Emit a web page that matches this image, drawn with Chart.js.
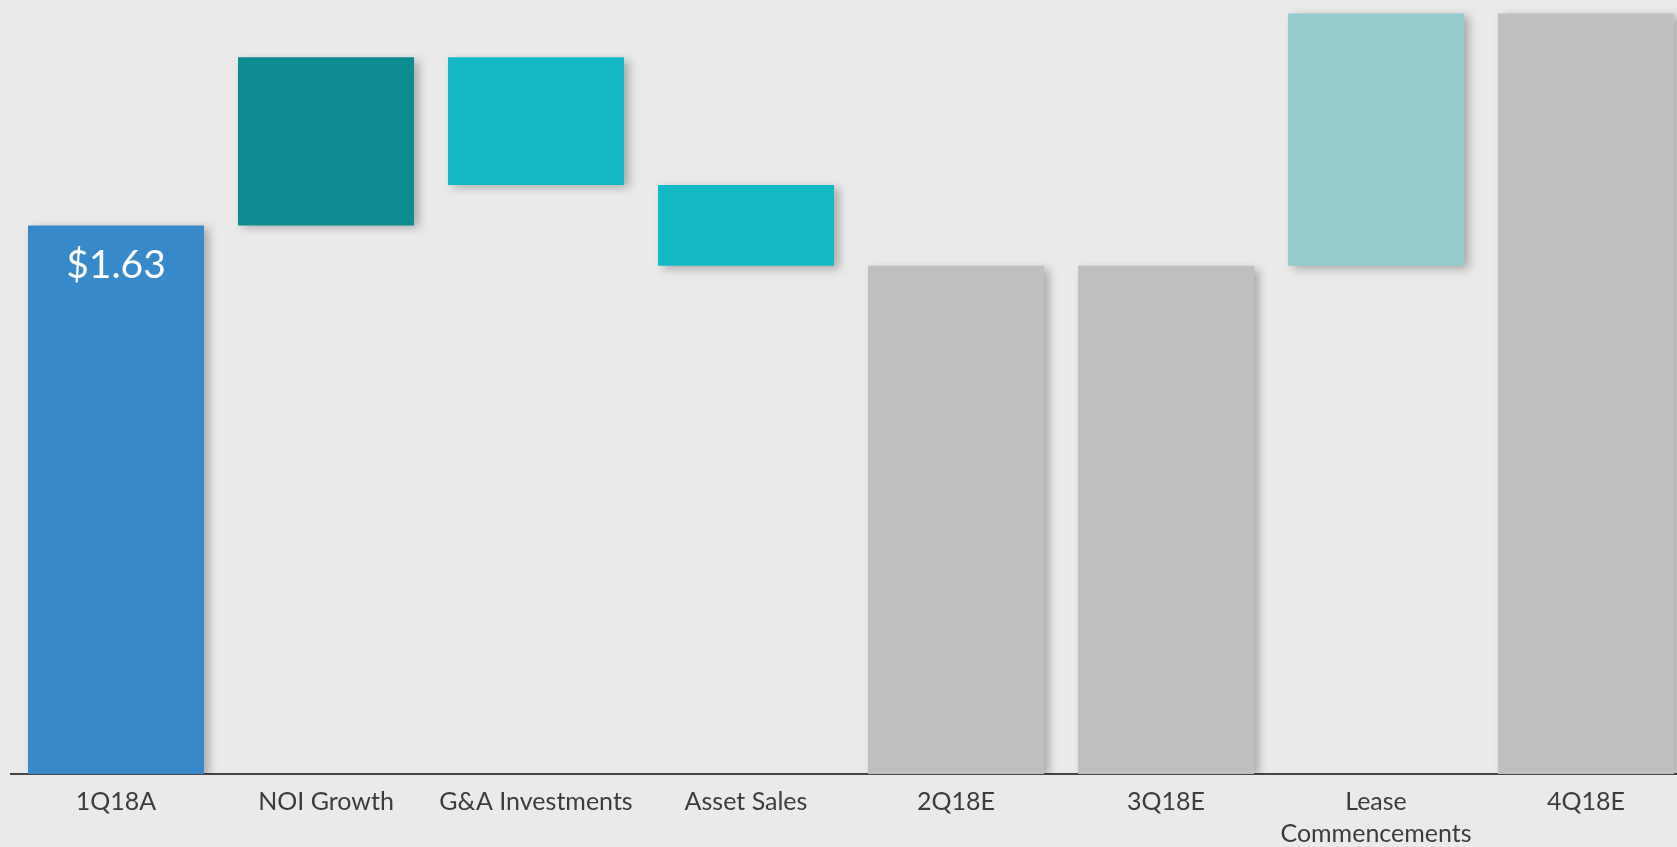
<!DOCTYPE html>
<html>
<head>
<meta charset="utf-8">
<script src="https://cdn.jsdelivr.net/npm/chart.js@4/dist/chart.umd.min.js"></script>
<style>
  html, body { margin: 0; padding: 0; background: #eaeaea; overflow: hidden; }
  #wrap { width: 1694px; height: 854px; position: relative; }
</style>
</head>
<body>
<div id="wrap"><canvas id="bridge"></canvas></div>
<script>
// FFO bridge 1Q18A -> 4Q18E

const categories = ['1Q18A', 'NOI Growth', 'G&A Investments', 'Asset Sales', '2Q18E', '3Q18E', ['Lease', 'Commencements'], '4Q18E'];
const barLows  = [0,    1.63, 1.75, 1.51, 0,    0,    1.51, 0];
const barHighs = [1.63, 2.13, 2.13, 1.75, 1.51, 1.51, 2.26, 2.26];
const valueLabels = ['$1.63', '', '', '', '', '', '', ''];

const barColors = ['#3889ca', '#0e8a91', '#12b8c3', '#12b8c3', '#bfbfbf', '#bfbfbf', '#95cbcd', '#bfbfbf'];

// soft drop shadow on the bars
const barShadow = {
  id: 'barShadow',
  beforeDatasetsDraw(chart) {
    const ctx = chart.ctx;
    ctx.save();
    ctx.shadowColor = 'rgba(0,0,0,0.28)';
    ctx.shadowBlur = 9;
    ctx.shadowOffsetX = 5;
    ctx.shadowOffsetY = 3;
  },
  afterDatasetsDraw(chart) {
    chart.ctx.restore();
  }
};

const valueText = {
  id: 'valueText',
  afterDatasetsDraw(chart) {
    const ctx = chart.ctx;
    const meta = chart.getDatasetMeta(0);
    ctx.save();
    ctx.fillStyle = '#ffffff';
    ctx.font = '39px Lato';
    ctx.textAlign = 'center';
    ctx.textBaseline = 'middle';
    meta.data.forEach((bar, i) => {
      if (valueLabels[i]) ctx.fillText(valueLabels[i], bar.x, bar.y + 40);
    });
    ctx.restore();
  }
};

const ctx = document.getElementById('bridge').getContext('2d');
new Chart(ctx, {
  type: 'bar',
  data: {
    labels: categories,
    datasets: [{
      data: barLows.map((lo, i) => [lo, barHighs[i]]),
      backgroundColor: barColors,
      borderWidth: 0,
      borderSkipped: false,
      categoryPercentage: 1,
      barPercentage: 0.838
    }]
  },
  options: {
    responsive: true,
    maintainAspectRatio: false,
    animation: false,
    layout: { padding: { left: 11, right: 3, top: 0, bottom: 0 } },
    plugins: { legend: { display: false }, tooltip: { enabled: false } },
    scales: {
      x: {
        grid: { display: false },
        border: { display: true, color: '#454545', width: 2 },
        ticks: {
          color: '#3c3c3c',
          font: { family: 'Lato', size: 25, lineHeight: 1.28 },
          padding: 4,
          maxRotation: 0,
          autoSkip: false
        }
      },
      y: { display: false, min: 0, max: 2.3 }
    }
  },
  plugins: [barShadow, valueText]
});
</script>
</body>
</html>
